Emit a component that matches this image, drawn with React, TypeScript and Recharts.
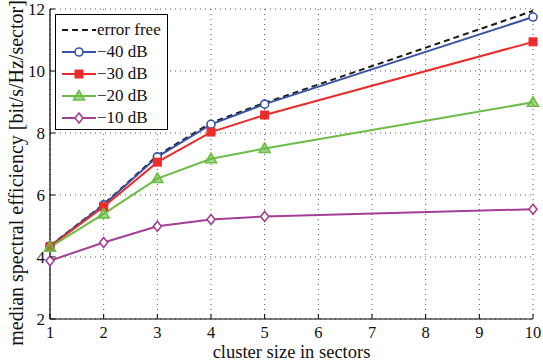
import React from "react";
import { LineChart, Line, XAxis, YAxis, CartesianGrid } from "recharts";

const clusterSizes = [1, 2, 3, 4, 5, 10];
const errorFree = [4.36, 5.7, 7.27, 8.33, 8.97, 11.94];
const db40 = [4.35, 5.68, 7.23, 8.28, 8.93, 11.74];
const db30 = [4.34, 5.62, 7.06, 8.03, 8.58, 10.94];
const db20 = [4.32, 5.39, 6.53, 7.17, 7.5, 8.99];
const db10 = [3.88, 4.47, 4.99, 5.21, 5.31, 5.54];
const xTicks = [1, 2, 3, 4, 5, 6, 7, 8, 9, 10];
const yTicks = [2, 4, 6, 8, 10, 12];

const data = clusterSizes.map((s, i) => ({
  size: s,
  ef: errorFree[i],
  d40: db40[i],
  d30: db30[i],
  d20: db20[i],
  d10: db10[i],
}));

const FONT = "'Liberation Serif', 'Times New Roman', serif";
const BLUE = "#3953a4";
const RED = "#ee2b2b";
const GREEN = "#6abd45";
const PURPLE = "#a43f98";

type Shape = "circle" | "square" | "triangle" | "diamond" | "none";

function Marker({ cx, cy, shape, color }: { cx: number; cy: number; shape: Shape; color: string }) {
  if (cx == null || cy == null) return null;
  const r = 4;
  if (shape === "circle")
    return <circle cx={cx} cy={cy} r={r} fill="white" stroke={color} strokeWidth={1.6} />;
  if (shape === "square")
    return (
      <rect x={cx - r} y={cy - r} width={2 * r} height={2 * r} fill={color} stroke={color} strokeWidth={1} />
    );
  if (shape === "triangle")
    return (
      <polygon
        points={`${cx},${cy - r - 1.5} ${cx - r - 1.5},${cy + r} ${cx + r + 1.5},${cy + r}`}
        fill={color}
        fillOpacity={0.6}
        stroke={color}
        strokeWidth={1.6}
      />
    );
  if (shape === "diamond")
    return (
      <polygon
        points={`${cx},${cy - r - 1} ${cx + r},${cy} ${cx},${cy + r + 1} ${cx - r},${cy}`}
        fill="white"
        stroke={color}
        strokeWidth={1.6}
      />
    );
  return null;
}

const series = [
  { key: "ef", name: "error free", color: "#1a1a1a", shape: "none" as Shape, dash: "6 4" },
  { key: "d40", name: "\u221240 dB", color: BLUE, shape: "circle" as Shape, dash: undefined },
  { key: "d30", name: "\u221230 dB", color: RED, shape: "square" as Shape, dash: undefined },
  { key: "d20", name: "\u221220 dB", color: GREEN, shape: "triangle" as Shape, dash: undefined },
  { key: "d10", name: "\u221210 dB", color: PURPLE, shape: "diamond" as Shape, dash: undefined },
];

function LegendBox() {
  return (
    <div
      style={{
        position: "absolute",
        left: 55,
        top: 14,
        border: "1.5px solid black",
        background: "white",
        width: 113,
        height: 116,
        boxSizing: "border-box",
        paddingTop: 4,
        fontFamily: FONT,
        fontSize: 17,
      }}
    >
      {series.map((s) => (
        <div key={s.key} style={{ display: "flex", alignItems: "center", height: 22 }}>
          <svg width={40} height={14} style={{ marginLeft: 4, flexShrink: 0 }}>
            <line
              x1={2}
              x2={36}
              y1={7}
              y2={7}
              stroke={s.color}
              strokeWidth={2}
              strokeDasharray={s.dash}
            />
            <Marker cx={19} cy={7} shape={s.shape} color={s.color} />
          </svg>
          <span style={{ color: "#111", marginLeft: -3, whiteSpace: "nowrap" }}>{s.name}</span>
        </div>
      ))}
    </div>
  );
}

const XTick = (props: any) => {
  const { x, y, payload } = props;
  return (
    <g>
      <line x1={x} x2={x} y1={y - 8} y2={y - 13} stroke="black" strokeWidth={1} />
      <text x={x} y={y + 10.5} textAnchor="middle" fontFamily={FONT} fontSize={16.5} fill="#111">
        {payload.value}
      </text>
    </g>
  );
};

const YTick = (props: any) => {
  const { x, y, payload } = props;
  return (
    <g>
      <line x1={x + 5} x2={x + 10} y1={y} y2={y} stroke="black" strokeWidth={1} />
      <text x={x} y={y + 5.5} textAnchor="end" fontFamily={FONT} fontSize={17} fill="#111">
        {payload.value}
      </text>
    </g>
  );
};

export default function App() {
  return (
    <div style={{ position: "absolute", left: 0, top: 0, width: 543, height: 364, background: "white" }}>
      <LineChart
        width={543}
        height={364}
        data={data}
        margin={{ top: 9, right: 10, left: 8, bottom: 0 }}
      >
        <CartesianGrid stroke="#555" strokeDasharray="1 4" strokeWidth={1} />
        <XAxis
          dataKey="size"
          type="number"
          domain={[1, 10]}
          ticks={xTicks}
          tickSize={0}
          tickMargin={8}
          height={45}
          axisLine={{ stroke: "black", strokeWidth: 1.2 }}
          tickLine={false}
          tick={<XTick />}
          label={{
            content: (p: any) => {
              const vb = p.viewBox;
              return (
                <text
                  x={vb.x + vb.width / 2}
                  y={vb.y + 38.5}
                  textAnchor="middle"
                  fontFamily={FONT}
                  fontSize={18.5}
                  fill="#111"
                >
                  cluster size in sectors
                </text>
              );
            },
          }}
        />
        <YAxis
          type="number"
          domain={[2, 12]}
          ticks={yTicks}
          width={42}
          tickSize={0}
          tickMargin={5}
          axisLine={{ stroke: "black", strokeWidth: 1.2 }}
          tickLine={false}
          tick={<YTick />}
          label={{
            content: (p: any) => {
              const vb = p.viewBox;
              const cx = 23;
              const cy = vb.y + vb.height / 2 + 9;
              return (
                <text
                  x={cx}
                  y={cy}
                  transform={`rotate(-90 ${cx} ${cy})`}
                  textAnchor="middle"
                  fontFamily={FONT}
                  fontSize={20}
                  fill="#111"
                >
                  median spectral efficiency [bit/s/Hz/sector]
                </text>
              );
            },
          }}
        />
        {series.map((s) => (
          <Line
            key={s.key}
            dataKey={s.key}
            name={s.name}
            stroke={s.color}
            strokeWidth={2}
            strokeDasharray={s.dash}
            isAnimationActive={false}
            dot={(p: any) => <Marker key={`${s.key}-${p.index}`} cx={p.cx} cy={p.cy} shape={s.shape} color={s.color} />}
            activeDot={false}
          />
        ))}
      </LineChart>
      <LegendBox />
    </div>
  );
}
